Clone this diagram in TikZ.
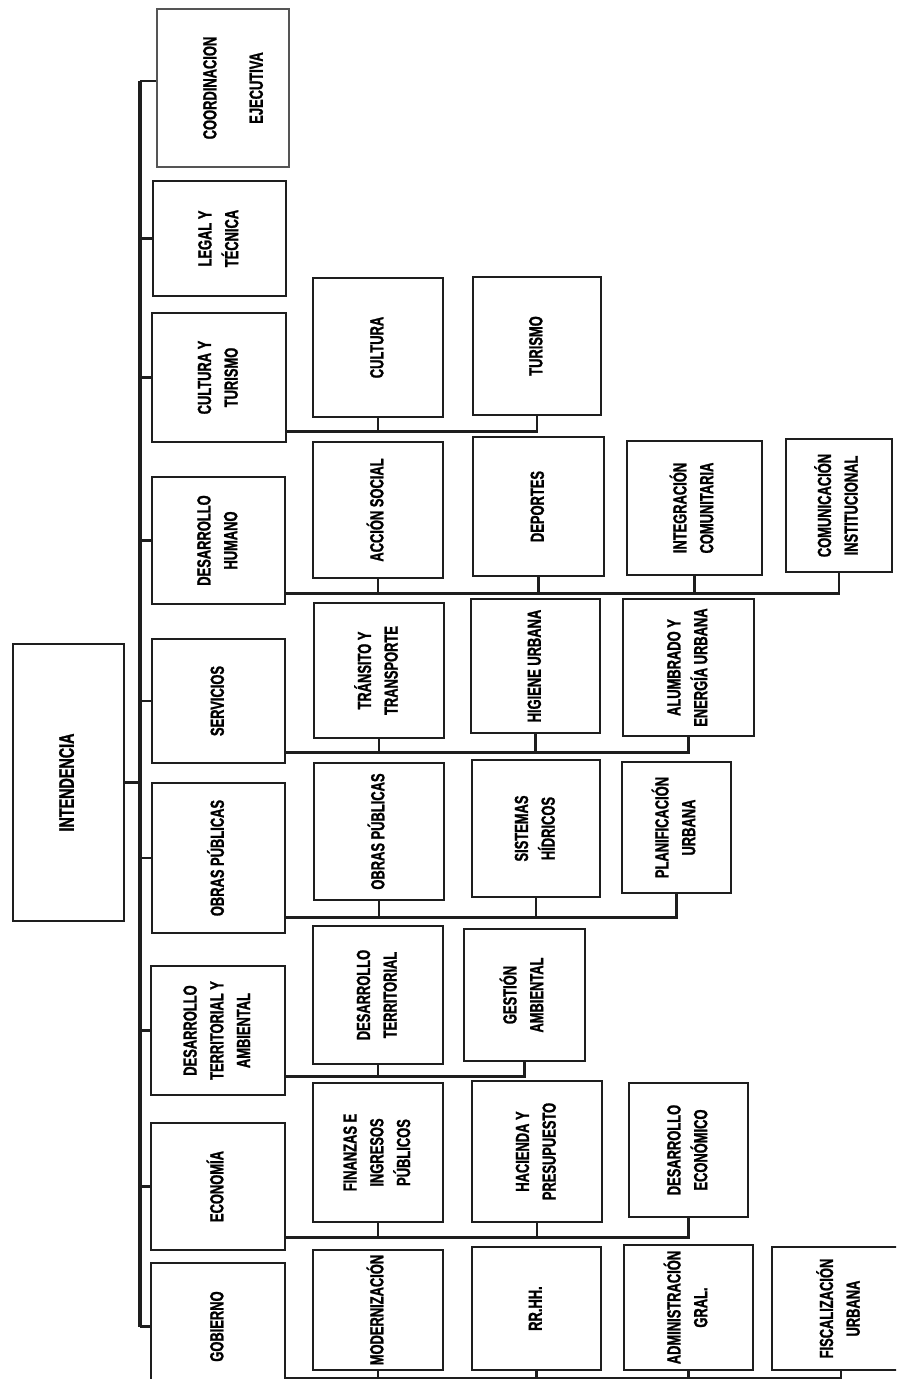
\documentclass[tikz,border=0pt]{standalone}
\usepackage{fontspec}
\usepackage{graphicx}
\newfontfamily\orgfont{Liberation Sans}[UprightFont=* Bold, FakeStretch=0.68, FakeBold=1.2]
\definecolor{orgink}{HTML}{1E1E1E}
\definecolor{orgpale}{HTML}{555555}
\newcommand{\vlabel}[1]{\rotatebox{90}{\begin{tabular}{@{}c@{}}#1\end{tabular}}}

\begin{document}
\begin{tikzpicture}[x=0.025cm, y=-0.025cm,
    font={\orgfont\fontsize{13.5}{19}\selectfont},
    unit/.style 2 args={draw=orgink, line width=1.8pt, fill=white, inner sep=0pt,
      minimum width=#1*0.025cm, minimum height=#2*0.025cm},
    link/.style={draw=orgink, line width=1.8pt}]
  \path[use as bounding box, fill=white] (0,0) rectangle (896,1379);
  \clip (0,0) rectangle (896,1379);
  % intendencia
  \node[unit={111}{277}] (inten) at (68.5,782.5) {\fontsize{15}{19}\selectfont\vlabel{INTENDENCIA}};
  % secretarias
  \node[unit={132}{158}, draw=orgpale, line width=1.1pt] (coord) at (223,88) {\vlabel{\\[-3pt]COORDINACION\\[14pt]EJECUTIVA}};
  \node[unit={133}{115}] (legal) at (219.5,238.5) {\vlabel{LEGAL Y\\TÉCNICA}};
  \node[unit={134}{129}] (cultur) at (219,377.5) {\vlabel{CULTURA Y\\TURISMO}};
  \node[unit={133}{127}] (dhum) at (218.5,540.5) {\vlabel{DESARROLLO\\HUMANO}};
  \node[unit={133}{124}] (serv) at (218.5,701) {\vlabel{SERVICIOS}};
  \node[unit={133}{150}] (obras) at (218.5,858) {\vlabel{OBRAS PÚBLICAS}};
  \node[unit={134}{129}] (dterr) at (218,1030.5) {\vlabel{DESARROLLO\\TERRITORIAL Y\\AMBIENTAL}};
  \node[unit={134}{127}] (econ) at (218,1186.5) {\vlabel{ECONOMÍA}};
  \node[unit={134}{127}] (gob) at (218,1326.5) {\vlabel{GOBIERNO}};
  % eje vertical
  \coordinate (spine) at (140,81);
  \draw[link, line width=2.4pt] (spine) -- (spine |- gob.west);
  \draw[link] (spine) -- (coord.west |- spine);
  \foreach \n in {legal,cultur,dhum,serv,obras,dterr,econ,gob}
    \draw[link] (\n.west) -- (\n.west -| spine);
  \draw[link] (inten.east) -- (inten.east -| spine);
  % subsecretarias
  \node[unit={130}{139}] (cultura) at (378,347.5) {\vlabel{CULTURA}};
  \node[unit={128}{138}] (turismo) at (537,346) {\vlabel{TURISMO}};
  \node[unit={130}{136}] (accion) at (378,510) {\vlabel{ACCIÓN SOCIAL}};
  \node[unit={131}{139}] (deportes) at (538.5,506.5) {\vlabel{DEPORTES}};
  \node[unit={135}{134}] (integra) at (694.5,508) {\vlabel{INTEGRACIÓN\\COMUNITARIA}};
  \node[unit={106}{133}] (comunic) at (839,505.5) {\vlabel{COMUNICACIÓN\\INSTITUCIONAL}};
  \node[unit={130}{135}] (transito) at (379,670.5) {\vlabel{TRÁNSITO Y\\TRANSPORTE}};
  \node[unit={129}{134}] (higiene) at (535.5,666) {\vlabel{HIGIENE URBANA}};
  \node[unit={131}{137}] (alumbrado) at (688.5,667.5) {\vlabel{ALUMBRADO Y\\ENERGÍA URBANA}};
  \node[unit={130}{137}] (obrasp) at (379,831.5) {\vlabel{OBRAS PÚBLICAS}};
  \node[unit={128}{137}] (sistemas) at (536,828.5) {\vlabel{SISTEMAS\\HÍDRICOS}};
  \node[unit={109}{131}] (planif) at (676.5,827.5) {\vlabel{PLANIFICACIÓN\\URBANA}};
  \node[unit={130}{138}] (dterrit) at (378,995) {\vlabel{DESARROLLO\\TERRITORIAL}};
  \node[unit={121}{132}] (gestion) at (524.5,995) {\vlabel{GESTIÓN\\AMBIENTAL}};
  \node[unit={130}{139}] (finanzas) at (378,1152.5) {\vlabel{FINANZAS E\\INGRESOS\\PÚBLICOS}};
  \node[unit={130}{141}] (hacienda) at (537,1151.5) {\vlabel{HACIENDA Y\\PRESUPUESTO}};
  \node[unit={119}{134}] (desecon) at (688.5,1150) {\vlabel{DESARROLLO\\ECONÓMICO}};
  \node[unit={130}{120}] (moderniz) at (378,1310) {\vlabel{MODERNIZACIÓN}};
  \node[unit={129}{123}] (rrhh) at (536.5,1308.5) {\vlabel{RR.HH.}};
  \node[unit={129}{125}] (admin) at (688.5,1307.5) {\vlabel{ADMINISTRACIÓN\\GRAL.}};
  \node[unit={138}{123}] (fiscal) at (841,1308.5) {\vlabel{FISCALIZACIÓN\\URBANA}};
  % buses por fila
  \foreach \p/\off/\kids in {cultur/12/{cultura,turismo}, dhum/12/{accion,deportes,integra,comunic},
      serv/12/{transito,higiene,alumbrado}, obras/17/{obrasp,sistemas,planif},
      dterr/20/{dterrit,gestion}, econ/14/{finanzas,hacienda,desecon},
      gob/13/{moderniz,rrhh,admin,fiscal}}{
    \path (\p.south east) ++(0,-\off) coordinate (bus-\p);
    \foreach \k in \kids
      \draw[link] (bus-\p) -| (\k.south);
  }
\end{tikzpicture}
\end{document}
